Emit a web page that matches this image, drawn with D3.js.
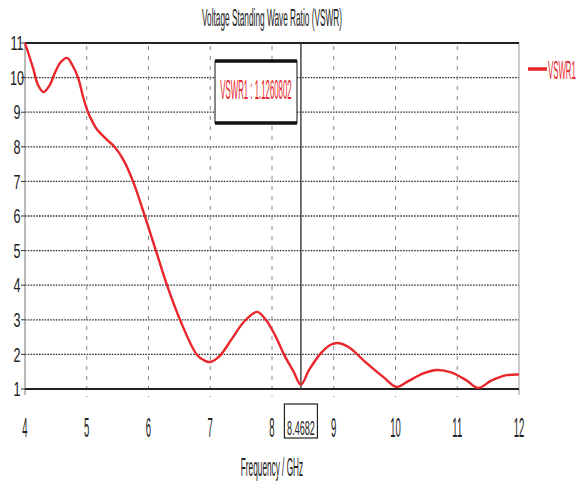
<!DOCTYPE html>
<html>
<head>
<meta charset="utf-8">
<script src="https://cdn.jsdelivr.net/npm/d3@7/dist/d3.min.js"></script>
<style>
  html, body { margin: 0; padding: 0; background: #fff; }
  svg { display: block; }
  text { font-family: "Liberation Sans", Arial, sans-serif; }
</style>
</head>
<body>
<svg id="chart" width="581" height="487"></svg>
<script>
// VSWR sweep of port 1 (frequency in GHz)
const freq = [4.0, 4.13, 4.21, 4.3, 4.4, 4.49, 4.58, 4.68, 4.77, 4.86, 4.94, 5.02, 5.1, 5.17, 5.33, 5.45,
  5.6, 5.75, 5.94, 6.12, 6.3, 6.51, 6.78, 6.9, 7.0, 7.15, 7.35, 7.55, 7.76, 7.9, 8.05, 8.2, 8.35, 8.4682,
  8.6, 8.8, 8.95, 9.07, 9.25, 9.5, 9.8, 10.02, 10.2, 10.45, 10.67, 10.9, 11.15, 11.34, 11.55, 11.8, 12.0];
const vswr = [11.0, 10.28, 9.79, 9.58, 9.78, 10.16, 10.45, 10.57, 10.35, 10.0, 9.45, 9.0, 8.7, 8.49, 8.2, 8.0,
  7.6, 7.0, 6.0, 5.0, 4.0, 3.0, 2.0, 1.83, 1.78, 1.95, 2.45, 2.95, 3.23, 3.0, 2.55, 1.98, 1.5, 1.1260802,
  1.55, 2.05, 2.28, 2.33, 2.2, 1.8, 1.35, 1.06, 1.22, 1.45, 1.55, 1.48, 1.25, 1.03, 1.24, 1.40, 1.42];

const xTicks = [4, 5, 6, 7, 8, 9, 10, 11, 12];
const yTicks = [1, 2, 3, 4, 5, 6, 7, 8, 9, 10, 11];
const markerFreq = 8.4682;
const markerValue = 1.1260802;
const seriesName = "VSWR1";
const titleText = "Voltage Standing Wave Ratio (VSWR)";
const xTitle = "Frequency / GHz";

const svg = d3.select("#chart");
const plotL = 25, plotR = 519, plotT = 43, plotB = 389;

const x = d3.scaleLinear().domain([4, 12]).range([plotL, plotR]);
const y = d3.scaleLinear().domain([1, 11]).range([plotB, plotT]);

const red = "#e8262b";

// condensed text helper: draws text scaled horizontally around its anchor
function condensed(g, str, px, py, size, sx, anchor, color) {
  return g.append("text")
    .attr("transform", `translate(${px},${py}) scale(${sx},1)`)
    .attr("text-anchor", anchor || "middle")
    .attr("dominant-baseline", "central")
    .attr("font-size", size)
    .attr("fill", color || "#222")
    .text(str);
}

// title
condensed(svg, titleText, 272, 18, 24, 0.345, "middle");

// horizontal dotted grid lines
svg.append("g").selectAll("line")
  .data(yTicks.filter(d => d > 1 && d < 11))
  .join("line")
  .attr("x1", plotL).attr("x2", plotR)
  .attr("y1", d => y(d)).attr("y2", d => y(d))
  .attr("stroke", "#333").attr("stroke-width", 1.3)
  .attr("stroke-dasharray", "1.6,1.2");

// vertical dashed grid lines (extending slightly below the axis as ticks)
svg.append("g").selectAll("line")
  .data(xTicks.filter(d => d > 4 && d < 12))
  .join("line")
  .attr("x1", d => x(d)).attr("x2", d => x(d))
  .attr("y1", plotT + 3).attr("y2", plotB + 8)
  .attr("stroke", "#8a8a8a").attr("stroke-width", 1)
  .attr("stroke-dasharray", "4,6");

// frame
svg.append("line").attr("x1", plotL).attr("x2", plotL).attr("y1", plotT).attr("y2", plotB + 6)
  .attr("stroke", "#777").attr("stroke-width", 1);
svg.append("line").attr("x1", plotR).attr("x2", plotR).attr("y1", plotT).attr("y2", plotB + 6)
  .attr("stroke", "#999").attr("stroke-width", 1);
svg.append("line").attr("x1", plotL).attr("x2", plotR).attr("y1", plotT).attr("y2", plotT)
  .attr("stroke", "#222").attr("stroke-width", 2);
svg.append("line").attr("x1", plotL).attr("x2", plotR).attr("y1", plotB).attr("y2", plotB)
  .attr("stroke", "#222").attr("stroke-width", 2);

// y tick marks + labels
const yAxisG = svg.append("g");
yTicks.forEach(t => {
  yAxisG.append("line").attr("x1", plotL - 4).attr("x2", plotL).attr("y1", y(t)).attr("y2", y(t))
    .attr("stroke", "#333").attr("stroke-width", 1);
  condensed(yAxisG, String(t), 17, y(t), 21, 0.6, "middle");
});

// x labels
const xAxisG = svg.append("g");
xTicks.forEach(t => {
  condensed(xAxisG, String(t), x(t), 427, 28, 0.34, "middle");
});

// marker line
svg.append("line")
  .attr("x1", x(markerFreq)).attr("x2", x(markerFreq))
  .attr("y1", plotT).attr("y2", plotB)
  .attr("stroke", "#444").attr("stroke-width", 1.5);

// marker readout on x axis
svg.append("rect")
  .attr("x", x(markerFreq) - 16.5).attr("y", 404).attr("width", 33).attr("height", 34)
  .attr("fill", "#fff").attr("stroke", "#222").attr("stroke-width", 1.2);
condensed(svg, String(markerFreq), x(markerFreq), 427, 21, 0.43, "middle");

// x axis title
condensed(svg, xTitle, 272, 467, 25, 0.33, "middle");

// curve
const line = d3.line()
  .x((d, i) => x(freq[i]))
  .y(d => y(d))
  .curve(d3.curveCatmullRom.alpha(0.5));
svg.append("path")
  .attr("d", line(vswr))
  .attr("fill", "none").attr("stroke", red).attr("stroke-width", 2.4)
  .attr("stroke-linejoin", "round");

// marker annotation box
const ab = svg.append("g");
ab.append("rect").attr("x", 215).attr("y", 61).attr("width", 82).attr("height", 62)
  .attr("fill", "#fff").attr("stroke", "#111").attr("stroke-width", 1);
ab.append("line").attr("x1", 215).attr("x2", 297).attr("y1", 61).attr("y2", 61)
  .attr("stroke", "#111").attr("stroke-width", 3.5);
ab.append("line").attr("x1", 215).attr("x2", 297).attr("y1", 123).attr("y2", 123)
  .attr("stroke", "#111").attr("stroke-width", 3.5);
condensed(ab, `${seriesName} : ${markerValue}`, 256, 89, 27, 0.29, "middle", red);

// legend
const lg = svg.append("g");
lg.append("line").attr("x1", 528).attr("x2", 547).attr("y1", 69).attr("y2", 69)
  .attr("stroke", red).attr("stroke-width", 3.5);
condensed(lg, seriesName, 548, 70, 26, 0.3, "start", red);
</script>
</body>
</html>
